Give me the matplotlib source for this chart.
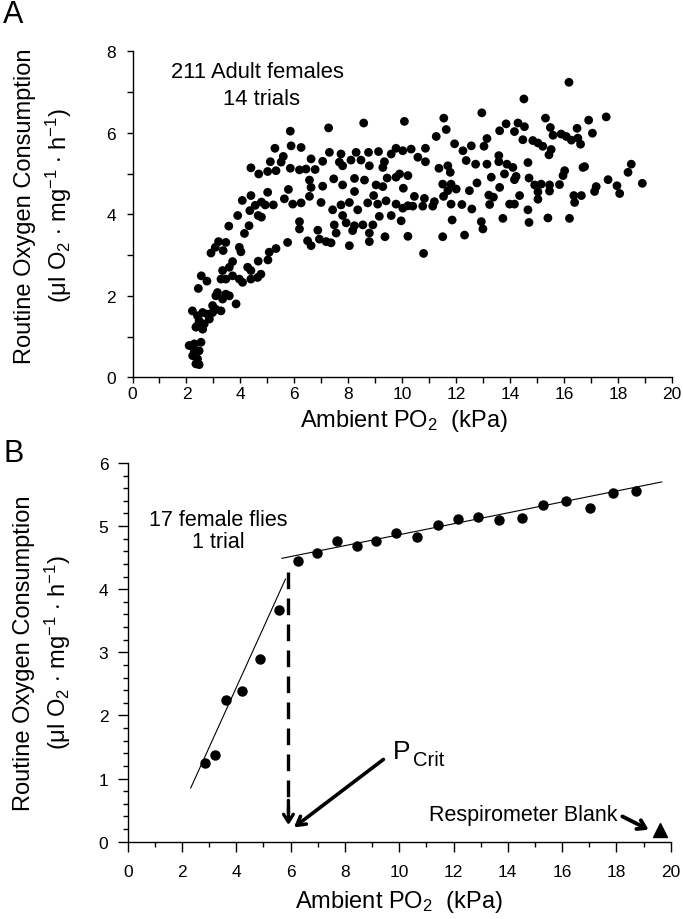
import matplotlib
matplotlib.use("Agg")
import matplotlib.pyplot as plt
from matplotlib.ticker import MultipleLocator

plt.rcParams['font.family'] = ['Liberation Sans', 'DejaVu Sans']
plt.rcParams['mathtext.fontset'] = 'custom'
plt.rcParams['mathtext.rm'] = 'Liberation Sans'
plt.rcParams['mathtext.it'] = 'Liberation Sans:italic'

# ==============================================================
#  DATA
# ==============================================================
# Panel A - 211 adult females, 14 trials
a_po2 = [
    4.07, 4.35, 4.55, 4.78, 4.92, 5.22, 4.66, 4.78, 3.90, 3.57, 4.32, 4.15,
    3.19, 3.46, 3.07, 2.91, 3.36, 3.96, 4.02, 3.71, 3.59, 3.34, 3.28, 3.46,
    3.71, 4.27, 4.39, 3.96, 4.08, 4.39, 4.64, 4.76, 4.66, 5.02, 5.07, 5.32,
    2.55, 2.76, 2.44, 3.09, 3.15, 3.46, 3.34, 3.59, 3.84, 2.97, 3.09, 2.22,
    2.41, 2.60, 2.78, 2.97, 3.28, 2.47, 2.66, 2.85, 2.41, 2.60, 2.35, 2.10,
    2.29, 2.54, 2.47, 2.29, 2.23, 2.41, 2.35, 2.47,
    5.28, 5.59, 5.11, 5.51, 4.39, 4.68, 5.01, 5.32, 4.39, 5.01,
    5.85, 7.27, 8.57, 5.88, 6.25, 7.30, 7.73, 8.29, 8.75, 9.12, 9.77,
    6.62, 7.05, 7.67, 7.79, 8.10, 8.47, 8.78, 9.34, 9.28, 9.59,
    5.85, 6.19, 6.43, 6.77, 6.56, 7.46, 7.79, 8.23, 8.60, 9.03, 9.28, 9.44,
    9.77, 5.78, 6.62, 7.05, 8.23, 8.94, 5.63, 5.94, 6.25, 6.56, 6.99, 7.42,
    7.73, 8.04, 8.35, 8.72, 9.09, 9.40, 9.77, 7.79, 7.92, 8.23, 8.54, 8.91,
    9.15, 9.59, 6.19, 6.19, 6.87, 7.48, 7.55, 8.16, 8.78, 5.75, 6.49, 6.62,
    6.93, 7.18, 7.36, 8.04, 8.78, 9.36,
    12.95, 10.08, 11.54, 11.63, 11.26, 11.94, 12.25, 12.56, 13.03, 13.14,
    13.61, 13.85, 14.29, 14.16, 10.02, 10.33, 10.58, 10.86, 10.86, 11.36,
    11.69, 11.78, 12.37, 12.72, 13.14, 13.58, 13.58, 13.88, 14.10, 13.79,
    14.22, 14.16, 9.90, 10.21, 10.04, 13.30, 12.77, 12.49, 11.50, 11.81,
    11.69, 12.00, 11.53, 13.61, 13.21, 13.38, 10.45, 10.82, 11.19, 11.13,
    10.76, 10.39, 10.21, 10.02, 11.81, 12.21, 12.58, 13.24, 13.98, 14.16,
    9.96, 11.85, 12.93, 12.99, 13.73, 10.21, 11.50, 12.31, 10.79,
    16.18, 14.51, 15.31, 15.49, 15.59, 15.89, 16.08, 16.27, 16.48, 16.51,
    16.61, 16.91, 17.05, 17.56, 14.53, 14.47, 14.84, 15.03, 15.21, 15.52,
    15.44, 14.66, 16.70, 16.76, 18.49, 18.37, 18.90, 16.02, 15.96, 14.70,
    14.91, 15.15, 15.46, 15.83, 15.46, 15.03, 15.03, 14.35, 17.63, 17.96,
    18.06, 17.19, 17.13, 16.36, 16.64, 16.39, 14.66, 14.70, 15.40, 16.20,
]
a_vo2 = [
    4.34, 4.09, 4.22, 4.30, 4.23, 4.23, 3.97, 3.93, 3.97, 3.71, 3.72, 3.53,
    3.33, 3.31, 3.19, 3.05, 3.11, 3.19, 3.08, 2.84, 2.70, 2.62, 2.41, 2.41,
    2.49, 2.70, 2.62, 2.41, 2.33, 2.41, 2.45, 2.53, 2.85, 2.88, 3.07, 3.16,
    2.49, 2.36, 2.18, 2.00, 2.08, 2.04, 1.92, 2.00, 1.80, 1.76, 1.67, 1.63,
    1.51, 1.59, 1.55, 1.59, 1.63, 1.39, 1.31, 1.43, 1.27, 1.18, 1.23, 0.78,
    0.82, 0.86, 0.65, 0.65, 0.53, 0.45, 0.33, 0.31,
    5.62, 5.42, 5.29, 5.28, 5.14, 4.99, 5.05, 5.07, 4.46, 4.54,
    6.04, 6.12, 6.24, 5.68, 5.64, 5.52, 5.48, 5.52, 5.52, 5.54, 5.62,
    5.36, 5.30, 5.28, 5.19, 5.33, 5.33, 5.19, 5.29, 5.15, 5.48,
    5.13, 5.09, 5.11, 5.10, 4.84, 4.87, 4.72, 4.88, 4.84, 4.72, 4.68, 4.89,
    4.91, 4.61, 4.66, 4.69, 4.56, 4.46, 4.38, 4.25, 4.28, 4.44, 4.29, 4.11,
    4.23, 4.29, 4.11, 4.28, 4.25, 4.33, 4.25, 3.97, 3.79, 3.72, 3.74, 3.74,
    3.95, 3.97, 3.82, 3.64, 3.61, 3.74, 3.54, 3.60, 3.54, 3.31, 3.35, 3.23,
    3.39, 3.33, 3.30, 3.23, 3.33, 3.45,
    6.49, 6.28, 6.36, 6.08, 5.91, 5.73, 5.56, 5.68, 5.67, 5.86,
    6.05, 6.22, 6.24, 6.03, 5.56, 5.60, 5.40, 5.62, 5.29, 5.13,
    5.19, 5.03, 5.32, 5.23, 5.23, 5.44, 5.29, 5.23, 5.15, 4.99,
    4.93, 4.85, 4.99, 4.95, 4.64, 4.91, 4.77, 4.58, 4.74, 4.74,
    4.58, 4.62, 4.44, 4.66, 4.47, 4.42, 4.44, 4.39, 4.31, 4.20,
    4.20, 4.20, 4.21, 4.15, 4.25, 4.24, 4.13, 4.24, 4.25, 4.25,
    3.84, 3.86, 3.82, 3.64, 3.90, 3.46, 3.45, 3.49, 3.04,
    7.24, 6.83, 6.36, 6.13, 5.94, 5.97, 5.91, 5.82, 6.11, 5.87,
    5.72, 6.31, 5.99, 6.39, 6.15, 5.83, 5.81, 5.75, 5.67, 5.59,
    5.46, 5.27, 5.15, 5.17, 5.23, 5.03, 4.76, 5.07, 4.95, 4.89,
    4.72, 4.74, 4.72, 4.73, 4.57, 4.55, 4.37, 4.46, 4.85, 4.70,
    4.51, 4.68, 4.56, 4.46, 4.46, 4.29, 4.11, 3.80, 3.91, 3.90,
]

# Panel B - 17 female flies, 1 trial
b_po2 = [2.86, 3.22, 3.63, 4.20, 4.87, 5.56, 6.28, 6.98, 7.71, 8.43, 9.16,
         9.89, 10.66, 11.43, 12.18, 12.91, 13.69, 14.53, 15.30, 16.16, 17.03,
         17.89, 18.73]
b_vo2 = [1.25, 1.38, 2.25, 2.38, 2.90, 3.67, 4.44, 4.57, 4.76, 4.69, 4.76,
         4.89, 4.83, 5.02, 5.11, 5.15, 5.09, 5.13, 5.34, 5.40, 5.28, 5.53,
         5.56]
low_fit_x = [2.32, 5.81]
low_fit_y = [0.85, 4.16]
high_fit_x = [5.68, 19.67]
high_fit_y = [4.49, 5.70]
pcrit_x = 5.92
pcrit_top = 4.27
blank_x = [19.6]
blank_y = [0.19]

YLABEL = "Routine Oxygen Consumption\n" \
         r"($\mathregular{\mu}$l O$_2$ $\cdot$ mg$^{-1}$ $\cdot$ h$^{-1}$)"
XLABEL = r"Ambient PO$_2$  (kPa)"

# ==============================================================
#  LAYOUT
# ==============================================================
W, H = 683, 920
fig = plt.figure(figsize=(W / 100, H / 100), dpi=100, facecolor="white")

ax_a = fig.add_axes([132.5 / W, 1 - 378.3 / H, 539.5 / W, 326 / H])
ax_b = fig.add_axes([127.7 / W, 1 - 842.7 / H, 543 / W, 378.7 / H])

for ax in (ax_a, ax_b):
    ax.spines["top"].set_visible(False)
    ax.spines["right"].set_visible(False)
    for sp in ("left", "bottom"):
        ax.spines[sp].set_linewidth(1.0)
    ax.set_xlim(0, 20)

# ==============================================================
#  PANEL A
# ==============================================================
ax_a.set_ylim(0, 8)
ax_a.scatter(a_po2, a_vo2, s=40, color="black", edgecolors="none",
             clip_on=False, zorder=3)
ax_a.xaxis.set_major_locator(MultipleLocator(2))
ax_a.xaxis.set_minor_locator(MultipleLocator(1))
ax_a.yaxis.set_major_locator(MultipleLocator(2))
ax_a.yaxis.set_minor_locator(MultipleLocator(1))
ax_a.tick_params(axis="both", which="both", direction="out", length=4,
                 width=1, labelsize=12.5)
ax_a.tick_params(axis="x", pad=2)
ax_a.tick_params(axis="y", pad=8)

ax_a.text(4.65, 7.51, "211 Adult females", ha="center", va="center",
          fontsize=15.8)
ax_a.text(4.80, 6.85, "14 trials", ha="center", va="center", fontsize=15.8)

# ==============================================================
#  PANEL B
# ==============================================================
ax_b.set_ylim(0, 6)
ax_b.plot(b_po2, b_vo2, "o", color="black", markersize=6.5, zorder=3)
ax_b.plot(low_fit_x, low_fit_y, color="black", linewidth=0.8)
ax_b.plot(high_fit_x, high_fit_y, color="black", linewidth=0.8)
ax_b.plot(blank_x, blank_y, "^", color="black", markersize=9.5, zorder=3)

# PCrit dashed drop line + head
ax_b.plot([pcrit_x, pcrit_x], [pcrit_top, 0.45], color="black",
          linewidth=2.4, dashes=(5, 2.8))
ax_b.annotate("", xy=(pcrit_x, 0.22), xytext=(pcrit_x, 0.7),
              arrowprops=dict(arrowstyle="->,head_length=0.55,head_width=0.35",
                              color="black", lw=2.4))
# PCrit pointer
ax_b.annotate("", xy=(6.04, 0.20), xytext=(9.50, 1.33),
              arrowprops=dict(arrowstyle="->,head_length=0.6,head_width=0.35",
                              color="black", lw=2.6))
ax_b.text(9.78, 1.43, "P", ha="left", va="center", fontsize=19)
ax_b.text(10.50, 1.30, "Crit", ha="left", va="center", fontsize=14.5)

# Respirometer blank
ax_b.text(11.11, 0.43, "Respirometer Blank", ha="left", va="center",
          fontsize=15.5)
ax_b.annotate("", xy=(19.28, 0.17), xytext=(18.13, 0.42),
              arrowprops=dict(arrowstyle="->,head_length=0.55,head_width=0.35",
                              color="black", lw=2.8))

ax_b.text(3.35, 5.11, "17 female flies", ha="center", va="center",
          fontsize=15.5)
ax_b.text(3.35, 4.75, "1 trial", ha="center", va="center", fontsize=15.5)

ax_b.xaxis.set_major_locator(MultipleLocator(2))
ax_b.xaxis.set_minor_locator(MultipleLocator(1))
ax_b.yaxis.set_major_locator(MultipleLocator(1))
ax_b.yaxis.set_minor_locator(MultipleLocator(0.2))
ax_b.tick_params(axis="both", which="major", direction="out", length=7,
                 width=1, labelsize=12.5)
ax_b.tick_params(axis="both", which="minor", direction="out", length=3.5,
                 width=1)
ax_b.tick_params(axis="x", which="major", pad=9)
ax_b.tick_params(axis="y", which="major", pad=7)

# ==============================================================
#  AXIS LABELS AND PANEL LETTERS
# ==============================================================
fig.text(44 / W, 1 - 206 / H, YLABEL, rotation=90, ha="center", va="center",
         multialignment="center", fontsize=17, linespacing=1.35)
fig.text(43 / W, 1 - 653 / H, YLABEL, rotation=90, ha="center", va="center",
         multialignment="center", fontsize=17, linespacing=1.35)
fig.text(404 / W, 1 - 421 / H, XLABEL, ha="center", va="center", fontsize=17)
fig.text(399 / W, 1 - 902 / H, XLABEL, ha="center", va="center", fontsize=17)

fig.text(3 / W, 1 - 15 / H, "A", ha="left", va="center", fontsize=22)
fig.text(3 / W, 1 - 454 / H, "B", ha="left", va="center", fontsize=22)

plt.savefig("out.png", dpi=100, facecolor="white")
plt.close(fig)
